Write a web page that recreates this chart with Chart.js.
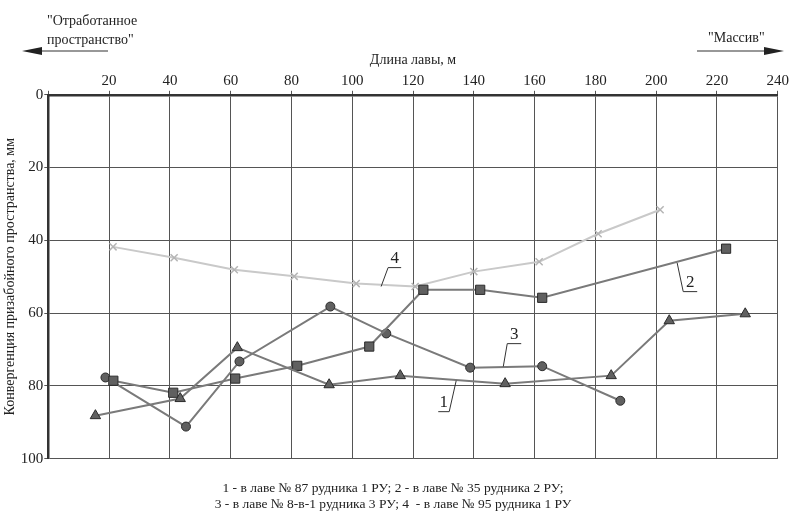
<!DOCTYPE html>
<html>
<head>
<meta charset="utf-8">
<script src="https://cdn.jsdelivr.net/npm/chart.js@4.4.1/dist/chart.umd.min.js"></script>
<style>
  html, body { margin: 0; padding: 0; background: #fff; }
  #wrap { width: 790px; height: 515px; }
</style>
</head>
<body>
<div id="wrap"><canvas id="conv" width="790" height="515"></canvas></div>
<script>
// длина лавы (м) и конвергенция (мм) по кривым 1-4
const x1 = [15.5, 43.4, 62.2, 92.4, 115.8, 150.3, 185.2, 204.3, 229.3];
const y1 = [88.2, 83.5, 69.5, 79.7, 77.2, 79.4, 77.2, 62.1, 60.2];

const x2 = [21.4, 41.1, 61.5, 81.9, 105.6, 123.4, 142.1, 162.5, 223.0];
const y2 = [78.6, 81.9, 78.0, 74.5, 69.2, 53.6, 53.6, 55.8, 42.3];

const x3 = [18.8, 45.3, 62.9, 92.8, 111.2, 138.8, 162.5, 188.2];
const y3 = [77.7, 91.2, 73.3, 58.2, 65.6, 75.0, 74.6, 84.1];

const x4 = [21.3, 41.4, 61.2, 80.9, 101.3, 120.7, 140.0, 161.5, 180.9, 201.3];
const y4 = [41.8, 44.8, 48.1, 49.9, 51.9, 52.7, 48.6, 45.9, 38.2, 31.6];

const curveLabels = ['1', '2', '3', '4'];
const legendLines = [
  '1 - в лаве № 87 рудника 1 РУ; 2 - в лаве № 35 рудника 2 РУ;',
  '3 - в лаве № 8-в-1 рудника 3 РУ; 4  - в лаве № 95 рудника 1 РУ'
];

const pts = (xs, ys) => xs.map((x, i) => ({ x: x, y: ys[i] }));
const serif = '"Liberation Serif", "DejaVu Serif", serif';

// выноски с номерами кривых: [точка на кривой, излом, конец подчёркивания] в единицах осей
const leaders = [
  { text: curveLabels[0], p: [[134.2, 78.6], [131.9, 87.1], [128.3, 87.1]] },
  { text: curveLabels[1], p: [[206.9, 46.2], [208.9, 54.1], [213.5, 54.1]] },
  { text: curveLabels[2], p: [[149.7, 74.7], [151.0, 68.4], [155.6, 68.4]] },
  { text: curveLabels[3], p: [[109.5, 52.7], [111.8, 47.5], [116.1, 47.5]] }
];

const decor = {
  id: 'decor',
  afterDatasetsDraw(chart) {
    const c = chart.ctx, xs = chart.scales.x, ys = chart.scales.y;
    c.save();
    c.strokeStyle = '#333';
    c.fillStyle = '#222';
    c.lineWidth = 1;
    c.font = '17px ' + serif;
    c.textAlign = 'center';
    c.textBaseline = 'bottom';
    leaders.forEach(l => {
      const q = l.p.map(p => [xs.getPixelForValue(p[0]), ys.getPixelForValue(p[1])]);
      c.beginPath();
      c.moveTo(q[0][0], q[0][1]);
      c.lineTo(q[1][0], q[1][1]);
      c.lineTo(q[2][0], q[2][1]);
      c.stroke();
      c.fillText(l.text, (q[1][0] + q[2][0]) / 2, q[1][1] - 1);
    });

    // стрелки направлений
    c.font = '14px ' + serif;
    c.textAlign = 'left';
    c.textBaseline = 'middle';
    c.fillText('"Отработанное', 47, 21);
    c.fillText('пространство"', 47, 40);
    c.fillText('"Массив"', 708, 38);
    c.lineWidth = 1.2;
    c.beginPath();
    c.moveTo(108, 51); c.lineTo(36, 51);
    c.moveTo(697, 51); c.lineTo(770, 51);
    c.stroke();
    c.beginPath();
    c.moveTo(22, 51); c.lineTo(42, 47); c.lineTo(42, 55); c.closePath();
    c.moveTo(784, 51); c.lineTo(764, 47); c.lineTo(764, 55); c.closePath();
    c.fill();
    c.restore();
  }
};

const ctx = document.getElementById('conv').getContext('2d');
new Chart(ctx, {
  type: 'line',
  data: {
    datasets: [
      {
        label: '1', data: pts(x1, y1),
        borderColor: '#7a7a7a', borderWidth: 2,
        pointStyle: 'triangle', pointRadius: 6,
        pointBackgroundColor: '#606060', pointBorderColor: '#2a2a2a', pointBorderWidth: 1
      },
      {
        label: '2', data: pts(x2, y2),
        borderColor: '#7a7a7a', borderWidth: 2,
        pointStyle: 'rect', pointRadius: 6.5,
        pointBackgroundColor: '#606060', pointBorderColor: '#2a2a2a', pointBorderWidth: 1
      },
      {
        label: '3', data: pts(x3, y3),
        borderColor: '#7a7a7a', borderWidth: 2,
        pointStyle: 'circle', pointRadius: 4.5,
        pointBackgroundColor: '#606060', pointBorderColor: '#2a2a2a', pointBorderWidth: 1
      },
      {
        label: '4', data: pts(x4, y4),
        borderColor: '#c9c9c9', borderWidth: 2,
        pointStyle: 'crossRot', pointRadius: 5,
        pointBorderColor: '#b5b5b5', pointBorderWidth: 1.5
      }
    ]
  },
  options: {
    responsive: false,
    animation: false,
    layout: { padding: { top: 52, left: 2, right: 6, bottom: 2 } },
    plugins: {
      legend: { display: false },
      tooltip: { enabled: false },
      subtitle: {
        display: true, position: 'bottom',
        text: legendLines,
        color: '#222',
        font: { family: serif, size: 13.5 },
        padding: { top: 22, bottom: 0 }
      }
    },
    scales: {
      x: {
        type: 'linear', position: 'top',
        min: 0, max: 240,
        title: { display: true, text: 'Длина лавы, м', color: '#222',
                 font: { family: serif, size: 14 }, padding: { top: 0, bottom: 2 } },
        ticks: {
          stepSize: 20, color: '#222', padding: 1,
          font: { family: serif, size: 15 },
          callback: v => v === 0 ? '' : v
        },
        grid: { color: '#555', lineWidth: 1, tickLength: 4 },
        border: { color: '#333', width: 2.5 }
      },
      y: {
        min: 0, max: 100, reverse: true,
        title: { display: true, text: 'Конвергенция призабойного пространства, мм', color: '#222',
                 font: { family: serif, size: 14 }, padding: { top: 0, bottom: 1 } },
        ticks: { stepSize: 20, color: '#222', padding: 1, font: { family: serif, size: 15 } },
        grid: { color: '#555', lineWidth: 1, tickLength: 4 },
        border: { color: '#333', width: 2.5 }
      }
    }
  },
  plugins: [decor]
});
</script>
</body>
</html>
